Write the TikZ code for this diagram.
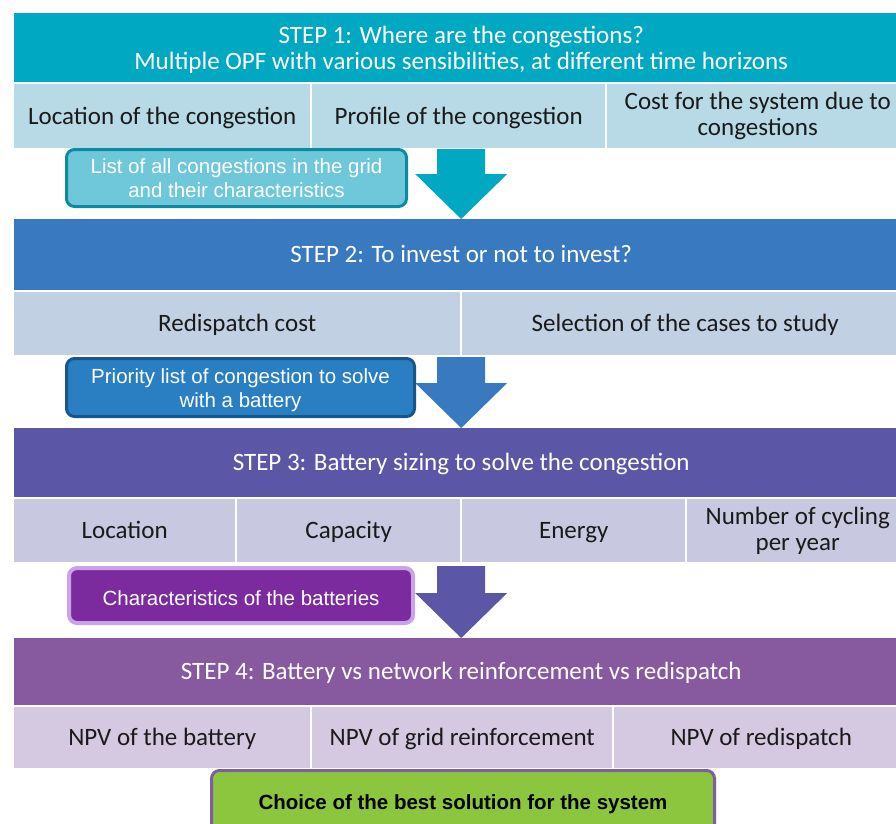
\documentclass[tikz,border=0pt]{standalone}
\usepackage{fontspec}
\setmainfont{Carlito}
\newfontfamily\arialfont{Liberation Sans}
\usetikzlibrary{calc}

\definecolor{tealhead}{HTML}{00A8C2}
\definecolor{tealcell}{HTML}{B8D9E6}
\definecolor{tealbox}{HTML}{6EC8DA}
\definecolor{tealedge}{HTML}{0C8AA0}
\definecolor{bluehead}{HTML}{3979BF}
\definecolor{bluecell}{HTML}{C1D0E3}
\definecolor{bluebox}{HTML}{2A7FC2}
\definecolor{blueedge}{HTML}{17558D}
\definecolor{indigohead}{HTML}{5B57A6}
\definecolor{indigocell}{HTML}{C8C8E0}
\definecolor{purplebox}{HTML}{7B2B9E}
\definecolor{purpleedge}{HTML}{C9A3E6}
\definecolor{mauvehead}{HTML}{87599F}
\definecolor{mauvecell}{HTML}{D5C9E1}
\definecolor{greenbox}{HTML}{8CC63F}
\definecolor{greenedge}{HTML}{7D5EA3}
\definecolor{textdark}{HTML}{1A1A1A}

\newcommand{\cellstrut}{\rule[-4pt]{0pt}{24.4pt}}
\newcommand{\boxstrut}{\rule[-3pt]{0pt}{25pt}}
\newcommand{\twoline}[3]{\begin{tabular}{@{}c@{}}\rule{0pt}{#1}#2\\#3\end{tabular}}

\tikzset{
  stephead/.style={inner sep=0pt, text=white, align=center, anchor=north west, font=\fontsize{25}{26}\selectfont, execute at begin node=\cellstrut, execute at end node=\cellstrut},
  cell/.style={inner sep=0pt, text=textdark, align=center, anchor=north west, font=\fontsize{25}{26}\selectfont, execute at begin node=\cellstrut, execute at end node=\cellstrut},
  result/.style={draw, rounded corners=8pt, line width=3pt, inner sep=0pt, align=center, anchor=north west, text=white, font=\arialfont\fontsize{20.5}{24}\selectfont, execute at begin node=\boxstrut, execute at end node=\boxstrut}
}

\newcommand{\bigarrow}[3]{\fill[#1] ($(#2)+(-24,0)$) -- ($(#2)+(24,0)$) -- ($(#3)+(24,-45)$) -- ($(#3)+(46,-45)$) -- (#3) -- ($(#3)+(-46,-45)$) -- ($(#3)+(-24,-45)$) -- cycle;}

\begin{document}
\begin{tikzpicture}[x=1pt, y=-1pt]
            \useasboundingbox (0,0) rectangle (896,823);

            \node (h1) [stephead, fill=tealhead, minimum width=894pt, minimum height=69pt] at (14,13) {\twoline{24.8pt}{STEP 1: Where are the congestions?}{Multiple OPF with various sensibilities, at different time horizons}};
            \node (loc) [cell, fill=tealcell, minimum width=296pt, minimum height=64pt] at (14,84) {Location of the congestion};
            \node (profile) [cell, fill=tealcell, minimum width=293pt, minimum height=64pt] at (312,84) {Profile of the congestion};
            \node (cost) [cell, fill=tealcell, minimum width=301pt, minimum height=64pt] at (607,84) {Cost for the system due to\\congestions};

            \node (h2) [stephead, fill=bluehead, minimum width=894pt, minimum height=71pt] at (14,219) {STEP 2: To invest or not to invest?};
            \coordinate (a1) at (461,149);
            \bigarrow{tealhead}{a1}{h2.north}
            \node (list) [result, fill=tealbox, draw=tealedge, minimum width=340pt, minimum height=57pt] at (65,148) {\twoline{23pt}{List of all congestions in the grid}{and their characteristics}};

            \node (redisp) [cell, fill=bluecell, minimum width=446pt, minimum height=63pt] at (14,292) {Redispatch cost};
            \node (select) [cell, fill=bluecell, minimum width=446pt, minimum height=63pt] at (462,292) {Selection of the cases to study};

            \node (h3) [stephead, fill=indigohead, minimum width=894pt, minimum height=69pt] at (14,428) {STEP 3: Battery sizing to solve the congestion};
            \coordinate (a2) at (461,357);
            \bigarrow{bluehead}{a2}{h3.north}
            \node (priority) [result, fill=bluebox, draw=blueedge, minimum width=348pt, minimum height=58pt] at (65,357) {\twoline{23pt}{Priority list of congestion to solve}{with a battery}};

            \node (place) [cell, fill=indigocell, minimum width=221pt, minimum height=63pt] at (14,499) {Location};
            \node (capacity) [cell, fill=indigocell, minimum width=223pt, minimum height=63pt] at (237,499) {Capacity};
            \node (energy) [cell, fill=indigocell, minimum width=223pt, minimum height=63pt] at (462,499) {Energy};
            \node (cycling) [cell, fill=indigocell, minimum width=221pt, minimum height=63pt] at (687,499) {Number of cycling\\per year};

            \node (h4) [stephead, fill=mauvehead, minimum width=894pt, minimum height=67pt] at (14,638) {STEP 4: Battery vs network reinforcement vs redispatch};
            \coordinate (a3) at (461,566);
            \bigarrow{indigohead}{a3}{h4.north}
            \node (batteries) [result, fill=purplebox, draw=purpleedge, line width=4pt, minimum width=344pt, minimum height=55pt] at (67,566) {Characteristics of the batteries};

            \node (npvbat) [cell, fill=mauvecell, minimum width=296pt, minimum height=61pt] at (14,707) {NPV of the battery};
            \node (npvgrid) [cell, fill=mauvecell, minimum width=300pt, minimum height=61pt] at (312,707) {NPV of grid reinforcement};
            \node (npvred) [cell, fill=mauvecell, minimum width=294pt, minimum height=61pt] at (614,707) {NPV of redispatch};

            \node (best) [result, fill=greenbox, draw=greenedge, text=black, font=\arialfont\bfseries\fontsize{20.5}{24}\selectfont, minimum width=503pt, minimum height=61pt] at (210,769) {Choice of the best solution for the system};
\end{tikzpicture}
\end{document}
